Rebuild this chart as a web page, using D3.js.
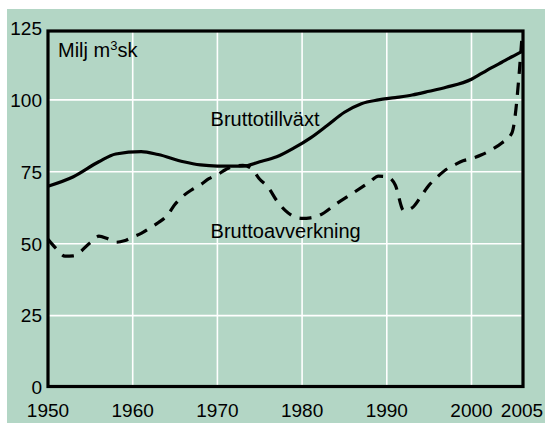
<!DOCTYPE html>
<html>
<head>
<meta charset="utf-8">
<script src="https://cdn.jsdelivr.net/npm/d3@7/dist/d3.min.js"></script>
<style>
  html, body { margin: 0; padding: 0; background: #ffffff; }
  svg { display: block; }
  text { font-family: "Liberation Sans", Arial, Helvetica, sans-serif; fill: #000; }
</style>
</head>
<body>
<svg id="chart" width="545" height="423"></svg>
<script>
// ---- Data ----
const xTickYears = [1950, 1960, 1970, 1980, 1990, 2000, 2005];
const xGridYears = [1960, 1970, 1980, 1990, 2000];
const yTickValues = [0, 25, 50, 75, 100, 125];
const yGridValues = [25, 50, 75, 100];

// Bruttotillväxt (solid)
const tillvaxtYears  = [1950, 1953, 1956, 1958, 1961, 1963, 1966, 1968, 1970, 1973, 1975, 1977, 1979, 1981, 1983, 1985, 1987, 1989, 1991, 1993, 1995, 1997, 2000, 2001, 2002, 2003, 2004, 2005];
const tillvaxtValues = [70.0, 73.3, 78.5, 81.2, 82.0, 81.0, 78.5, 77.4, 77.0, 77.0, 78.5, 80.2, 83.2, 86.8, 91.2, 95.7, 98.7, 100.0, 100.8, 101.7, 103.0, 104.4, 107.2, 109.2, 111.2, 113.1, 115.0, 116.8];

// Bruttoavverkning (dashed)
const avverkningYears  = [1950, 1951, 1952, 1953, 1955, 1956, 1957, 1958, 1959, 1960, 1961, 1962, 1963, 1964, 1965, 1966, 1967, 1968, 1969, 1970, 1971, 1972, 1973, 1974, 1975, 1976, 1977, 1978, 1979, 1980, 1981, 1982, 1984, 1986, 1988, 1989, 1990, 1991, 1992, 1993, 1994, 1995, 1996, 1997, 1998, 1999, 2000, 2001, 2002, 2003, 2004, 2005];
const avverkningValues = [51.5, 48.2, 45.7, 45.8, 50.4, 52.6, 51.8, 50.5, 51.0, 52.3, 53.6, 55.4, 57.3, 59.6, 63.7, 66.7, 68.8, 70.5, 72.6, 74.0, 75.8, 77.0, 77.2, 76.2, 72.4, 69.6, 65.0, 61.6, 59.5, 58.8, 59.0, 59.8, 63.8, 67.6, 71.5, 73.5, 73.3, 70.4, 61.5, 62.5, 66.3, 70.4, 73.3, 75.8, 77.4, 78.8, 79.6, 80.9, 82.7, 85.0, 88.5, 122.0];

const unitMain = "Milj m";
const unitSup = "3";
const unitTail = "sk";
const seriesLabels = ["Bruttotillväxt", "Bruttoavverkning"];

// ---- Layout ----
const W = 545, H = 423;
const frame = { left: 48, top: 31, right: 523, bottom: 386.5 };

const svg = d3.select("#chart");

// background
svg.append("rect").attr("x", 0).attr("y", 0).attr("width", W).attr("height", H).attr("fill", "#ffffff");
svg.append("rect").attr("x", 7).attr("y", 9).attr("width", W - 7).attr("height", H - 9).attr("fill", "#b3d6c5");

// scales
const x = d3.scaleLinear().domain([1950, 2000, 2005]).range([frame.left, 471.5, 522]);
const y = d3.scaleLinear().domain([0, 125]).range([387.5, 28]);

// grid lines
const grid = svg.append("g").attr("stroke", "#ffffff").attr("stroke-width", 1.6);
grid.selectAll("line.v").data(xGridYears).join("line")
  .attr("class", "v")
  .attr("x1", d => x(d)).attr("x2", d => x(d))
  .attr("y1", frame.top).attr("y2", frame.bottom);
grid.selectAll("line.h").data(yGridValues).join("line")
  .attr("class", "h")
  .attr("x1", frame.left).attr("x2", frame.right)
  .attr("y1", d => y(d)).attr("y2", d => y(d));

// lines
const lineGen = d3.line()
  .x(d => x(d[0]))
  .y(d => y(d[1]))
  .curve(d3.curveMonotoneX);

const tillvaxt = tillvaxtYears.map((yr, i) => [yr, tillvaxtValues[i]]);
const avverkning = avverkningYears.map((yr, i) => [yr, avverkningValues[i]]);

svg.append("path")
  .datum(avverkning)
  .attr("d", lineGen)
  .attr("fill", "none")
  .attr("stroke", "#000")
  .attr("stroke-width", 3.2)
  .attr("stroke-dasharray", "12,9");

svg.append("path")
  .datum(tillvaxt)
  .attr("d", lineGen)
  .attr("fill", "none")
  .attr("stroke", "#000")
  .attr("stroke-width", 3.2);

// frame
svg.append("rect")
  .attr("x", frame.left).attr("y", frame.top)
  .attr("width", frame.right - frame.left).attr("height", frame.bottom - frame.top)
  .attr("fill", "none").attr("stroke", "#000").attr("stroke-width", 3.2);

// y tick labels
svg.append("g").selectAll("text").data(yTickValues).join("text")
  .attr("x", 42)
  .attr("y", d => y(d))
  .attr("dy", "0.36em")
  .attr("text-anchor", "end")
  .attr("font-size", 19)
  .text(d => d);

// x tick labels
svg.append("g").selectAll("text").data(xTickYears).join("text")
  .attr("x", d => x(d))
  .attr("y", 417)
  .attr("text-anchor", "middle")
  .attr("font-size", 19)
  .text(d => d);

// unit label
const unit = svg.append("text")
  .attr("x", 58).attr("y", 56.5)
  .attr("font-size", 20);
unit.append("tspan").text(unitMain);
unit.append("tspan").attr("font-size", 13).attr("dy", -7).text(unitSup);
unit.append("tspan").attr("dy", 7).text(unitTail);

// series labels
svg.append("text")
  .attr("x", x(1969.2)).attr("y", y(91.0))
  .attr("font-size", 20)
  .text(seriesLabels[0]);
svg.append("text")
  .attr("x", x(1969.2)).attr("y", y(51.9))
  .attr("font-size", 20)
  .text(seriesLabels[1]);
</script>
</body>
</html>
